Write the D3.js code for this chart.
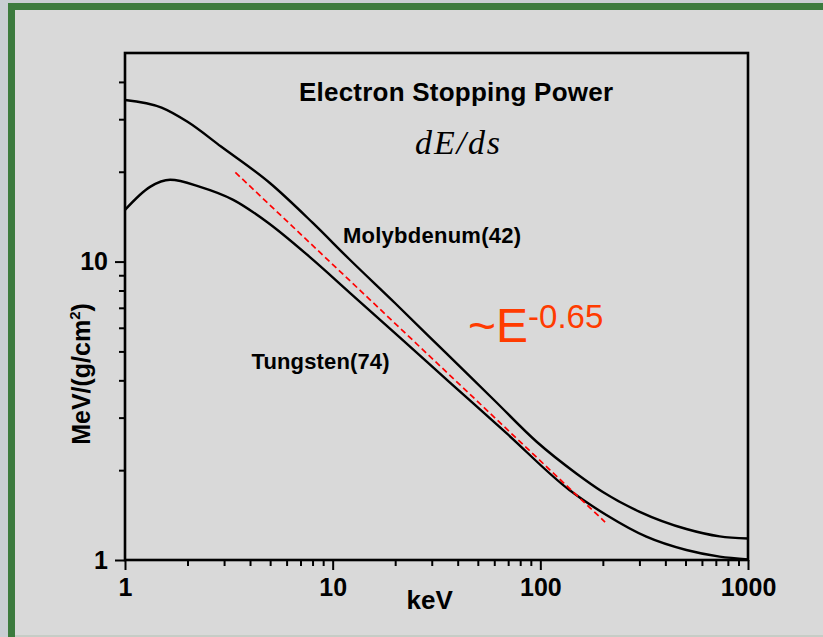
<!DOCTYPE html>
<html>
<head>
<meta charset="utf-8">
<script src="https://cdn.jsdelivr.net/npm/d3@7"></script>
<style>
  html, body { margin: 0; padding: 0; width: 823px; height: 637px; background: #d9d9d9; overflow: hidden; }
  #chart { position: absolute; left: 0; top: 0; }
  svg { display: block; }
</style>
</head>
<body>
<div id="chart"></div>
<script>
// Electron stopping power
var energyMo = [1, 1.5, 2, 2.9, 5, 8, 12, 20, 35, 60, 96, 149, 200, 301, 505, 730, 1000];
var powerMo = [34.8, 32.8, 29.4, 24.3, 18.3, 13.5, 10.2, 7.25, 4.95, 3.43, 2.49, 1.95, 1.69, 1.45, 1.27, 1.2, 1.18];

var energyW = [1, 1.32, 1.65, 2.3, 3.32, 4.81, 7.77, 12.1, 21.1, 36.6, 68.7, 138, 208, 324, 505, 730, 1000];
var powerW = [14.9, 17.8, 18.8, 17.8, 16.1, 13.6, 10.35, 7.86, 5.56, 3.94, 2.66, 1.716, 1.415, 1.197, 1.08, 1.026, 1.005];

// dashed power-law guide, its two ends
var energyFit = [3.4, 205];
var powerFit = [19.9, 1.34];

var xMajor = [1, 10, 100, 1000];
var yMajor = [1, 10];

var svgWidth = 823;
var svgHeight = 637;

var margin = { top: 53, right: 75, bottom: 77, left: 125 };
var width = svgWidth - margin.left - margin.right;
var height = svgHeight - margin.top - margin.bottom;

var font = "Arial, 'Liberation Sans', sans-serif";

var svg = d3.select("#chart")
  .append("svg")
  .attr("width", svgWidth)
  .attr("height", svgHeight);

// slide background: grey edge, green bands on left and top only
var bands = [
  { x: 0, y: 0, w: svgWidth, h: svgHeight, c: "#d9d9d9" },
  { x: 0, y: 0, w: 8, h: svgHeight, c: "#c9ced3" },
  { x: 0, y: 0, w: svgWidth, h: 3, c: "#c9ced3" },
  { x: 8, y: 3, w: 7, h: svgHeight - 3, c: "#3c7b3e" },
  { x: 8, y: 3, w: svgWidth - 8, h: 7, c: "#3c7b3e" },
  { x: 15, y: svgHeight - 2, w: svgWidth - 15, h: 2, c: "#c6cdc6" }
];
svg.selectAll("rect.band")
  .data(bands)
  .enter()
  .append("rect")
  .attr("class", "band")
  .attr("x", d => d.x).attr("y", d => d.y)
  .attr("width", d => d.w).attr("height", d => d.h)
  .attr("fill", d => d.c);

var chartGroup = svg.append("g")
  .attr("transform", `translate(${margin.left}, ${margin.top})`);

var xScale = d3.scaleLog().domain([1, 1000]).range([0, width]);
var yScale = d3.scaleLog().domain([1, 50]).range([height, 0]);

var xMinor = xScale.ticks().filter(d => xMajor.indexOf(d) < 0);
var yMinor = yScale.ticks().filter(d => yMajor.indexOf(d) < 0 && d < 50);

// minor ticks
chartGroup.append("g")
  .attr("class", "axis")
  .attr("transform", `translate(0, ${height})`)
  .call(d3.axisBottom(xScale).tickValues(xMinor).tickSize(6).tickFormat(""));
chartGroup.append("g")
  .attr("class", "axis")
  .call(d3.axisLeft(yScale).tickValues(yMinor).tickSize(6).tickFormat(""));

// major ticks with labels
var bottomAxis = chartGroup.append("g")
  .attr("class", "axis")
  .attr("transform", `translate(0, ${height})`)
  .call(d3.axisBottom(xScale).tickValues(xMajor).tickSize(10).tickPadding(8).tickFormat(d3.format("d")));
var leftAxis = chartGroup.append("g")
  .attr("class", "axis")
  .call(d3.axisLeft(yScale).tickValues(yMajor).tickSize(10).tickPadding(7).tickFormat(d3.format("d")));

chartGroup.selectAll(".axis .domain").remove();
chartGroup.selectAll(".axis line").attr("stroke", "#000").attr("stroke-width", 2);
chartGroup.selectAll(".axis text")
  .attr("fill", "#000")
  .style("font-family", font)
  .style("font-weight", "bold")
  .style("font-size", "25px");
bottomAxis.selectAll("text").attr("dy", "0.71em");

// curves
var line = d3.line()
  .x(d => xScale(d[0]))
  .y(d => yScale(d[1]))
  .curve(d3.curveMonotoneX);

chartGroup.append("path")
  .datum(d3.zip(energyMo, powerMo))
  .attr("d", line)
  .attr("fill", "none")
  .attr("stroke", "#000")
  .attr("stroke-width", 2.4);

chartGroup.append("path")
  .datum(d3.zip(energyW, powerW))
  .attr("d", line)
  .attr("fill", "none")
  .attr("stroke", "#000")
  .attr("stroke-width", 2.4);

chartGroup.append("path")
  .datum(d3.zip(energyFit, powerFit))
  .attr("d", d3.line().x(d => xScale(d[0])).y(d => yScale(d[1])))
  .attr("fill", "none")
  .attr("stroke", "#ff0000")
  .attr("stroke-width", 1.7)
  .attr("stroke-dasharray", "6,3.5");

// plot frame
chartGroup.append("rect")
  .attr("width", width).attr("height", height)
  .attr("fill", "none")
  .attr("stroke", "#000")
  .attr("stroke-width", 2.6);

// texts
svg.append("text")
  .attr("x", 299).attr("y", 101)
  .attr("textLength", 314)
  .style("font-family", font).style("font-weight", "bold").style("font-size", "26px")
  .text("Electron Stopping Power");

svg.append("text")
  .attr("x", 415).attr("y", 154)
  .attr("textLength", 85)
  .style("font-family", "'Liberation Serif', 'Times New Roman', serif")
  .style("font-style", "italic").style("font-size", "34px")
  .text("dE/ds");

svg.append("text")
  .attr("x", 343).attr("y", 243)
  .attr("textLength", 178)
  .style("font-family", font).style("font-weight", "bold").style("font-size", "22px")
  .text("Molybdenum(42)");

svg.append("text")
  .attr("x", 251.5).attr("y", 369)
  .attr("textLength", 138)
  .style("font-family", font).style("font-weight", "bold").style("font-size", "22px")
  .text("Tungsten(74)");

var powText = svg.append("text")
  .attr("x", 468).attr("y", 341.7)
  .attr("fill", "#ff3b00")
  .style("font-family", font).style("font-size", "48px");
powText.append("tspan").text("~E");
powText.append("tspan")
  .attr("dy", -13.4)
  .style("font-size", "33px")
  .text("-0.65");

svg.append("text")
  .attr("x", 429.7).attr("y", 609.3)
  .attr("text-anchor", "middle")
  .style("font-family", font).style("font-weight", "bold").style("font-size", "26px")
  .text("keV");

var yLabel = svg.append("text")
  .attr("transform", "translate(90, 374) rotate(-90)")
  .attr("text-anchor", "middle")
  .style("font-family", font).style("font-weight", "bold").style("font-size", "25px");
yLabel.append("tspan").text("MeV/(g/cm");
yLabel.append("tspan").attr("dy", -10).style("font-size", "15px").text("2");
yLabel.append("tspan").attr("dy", 10).text(")");
</script>
</body>
</html>
